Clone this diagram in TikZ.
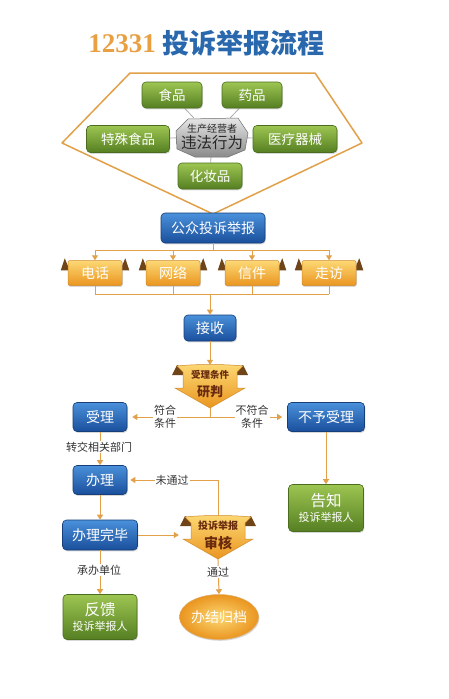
\documentclass[tikz,border=0pt]{standalone}
\usepackage{fontspec}
\newfontfamily\cjk{Noto Sans CJK SC}
\newfontfamily\sernum{Liberation Serif}
\usetikzlibrary{arrows.meta,shadows,backgrounds,shapes.geometric}
\pgfdeclarelayer{paper}
\pgfsetlayers{paper,background,main}
\definecolor{btop}{HTML}{4A90DA}
\definecolor{bbot}{HTML}{1A4F9C}
\definecolor{bbd}{HTML}{163E78}
\definecolor{gtop}{HTML}{9DC552}
\definecolor{gbot}{HTML}{557F22}
\definecolor{gbd}{HTML}{4A6E1E}
\definecolor{otop}{HTML}{FCD874}
\definecolor{obot}{HTML}{EA951F}
\definecolor{obd}{HTML}{CF8A2A}
\definecolor{ebrown}{HTML}{6E4418}
\definecolor{lc}{HTML}{E2A049}
\definecolor{labc}{HTML}{333333}
\definecolor{tor}{HTML}{E8A043}
\definecolor{tbl}{HTML}{2A68AE}
\definecolor{dred}{HTML}{6A2A0E}
\definecolor{grl}{HTML}{E6E6E6}
\definecolor{grd}{HTML}{8A8A8A}
\newcommand\bannershape[2]{%
  \begin{scope}[shift={(#1,#2)}]
    \fill[ebrown] (-38,10) -- (-33,0) -- (-26,3) -- (-27,10) -- cycle;
    \fill[ebrown] (38,10) -- (33,0) -- (26,3) -- (27,10) -- cycle;
    \shade[top color=otop,bottom color=obot,draw=obd,line width=0.5pt]
      (-33,1) .. controls (-15,-1) and (15,-1) .. (33,1) -- (27,7) -- (27,23) -- (35,23) -- (0,43) -- (-35,23) -- (-27,23) -- (-27,7) -- cycle;
  \end{scope}}
\newcommand\ribears[1]{%
  \fill[ebrown] ([xshift=-7pt,yshift=-10pt]#1.north west) -- ([xshift=-3pt,yshift=2pt]#1.north west) -- ([xshift=2pt,yshift=-10pt]#1.north west) -- cycle;
  \fill[ebrown] ([xshift=7pt,yshift=-10pt]#1.north east) -- ([xshift=3pt,yshift=2pt]#1.north east) -- ([xshift=-2pt,yshift=-10pt]#1.north east) -- cycle;}
\tikzset{
  shd/.style={drop shadow={opacity=0.3,shadow xshift=0.8pt,shadow yshift=-1.3pt}},
  bbox/.style={rounded corners=4pt,draw=bbd,line width=0.6pt,top color=btop,bottom color=bbot,
    text=white,font=\cjk\fontsize{14}{16}\selectfont,inner sep=0pt,shd},
  gbox/.style={rounded corners=4pt,draw=gbd,line width=0.6pt,top color=gtop,bottom color=gbot,
    text=white,font=\cjk\fontsize{13.5}{15}\selectfont,inner sep=0pt,shd},
  obox/.style={rounded corners=2pt,draw=obd,line width=0.5pt,top color=otop,bottom color=obot,
    text=white,font=\cjk\fontsize{14}{16}\selectfont,inner sep=0pt,minimum width=54pt,minimum height=25pt,shd},
  conn/.style={draw=lc,line width=1pt},
  arr/.style={conn,-{Triangle[width=6pt,length=5pt]}},
  lab/.style={fill=white,inner sep=1pt,text=labc,font=\cjk\fontsize{11}{13}\selectfont,align=center},
  gline/.style={draw=grd!70,line width=0.8pt},
}
\begin{document}
\begin{tikzpicture}[x=1pt,y=-1pt]
\begin{pgfonlayer}{paper}
\fill[white] (0,0) rectangle (449,699);
\end{pgfonlayer}
\useasboundingbox (0,0) rectangle (449,699);
% title
\node[anchor=east,inner sep=0pt,text=tor,font=\sernum\bfseries\fontsize{27}{29}\selectfont] (tnum) at (156,44) {12331};
\node[anchor=west,inner sep=0pt,text=tbl,font=\cjk\bfseries\fontsize{27}{29}\selectfont] (ttxt) at (162,43) {投诉举报流程};
% pentagon frame
\draw[draw=lc,line width=1.5pt,line join=round] (130,73) -- (315,73) -- (362,143) -- (213,214) -- (62,143) -- cycle;
% center shape nodes
\node[inner sep=0pt,minimum width=70pt,minimum height=38pt] (ctr) at (212,137) {};
\node[gbox,minimum width=60pt,minimum height=26pt] (sp) at (172,95) {食品};
\node[gbox,minimum width=60pt,minimum height=26pt] (yp) at (252,95) {药品};
\node[gbox,minimum width=83pt,minimum height=27pt] (ts) at (128,139) {特殊食品};
\node[gbox,minimum width=84pt,minimum height=27pt] (yl) at (295,139) {医疗器械};
\node[gbox,minimum width=64pt,minimum height=26pt] (hz) at (210,176) {化妆品};
\begin{scope}[on background layer]
\draw[gline] (sp) -- (ctr);
\draw[gline] (yp) -- (ctr);
\draw[gline] (ts) -- (ctr);
\draw[gline] (yl) -- (ctr);
\draw[gline] (hz) -- (ctr);
\end{scope}
\shade[top color=grl,bottom color=grd,draw=grd!80!black,line width=0.5pt]
  (188,119) -- (238,118) -- (248,133) -- (245,150) -- (228,157) -- (195,157) -- (177,149) -- (176,131) -- cycle;
\node[text=black!85,align=center,inner sep=0pt] (ctrt) at (212,137)
  {\cjk\fontsize{10}{11}\selectfont 生产经营者\\[1pt]\cjk\fontsize{15.5}{16}\selectfont 违法行为};
% public complaint
\node[bbox,minimum width=104pt,minimum height=30pt] (gz) at (213,228) {公众投诉举报};
% channels
\node[obox] (dh) at (95,273) {电话};
\node[obox] (wl) at (173,273) {网络};
\node[obox] (xj) at (252,273) {信件};
\node[obox] (zf) at (329,273) {走访};
\begin{scope}[on background layer]
\ribears{dh}\ribears{wl}\ribears{xj}\ribears{zf}
\end{scope}
\coordinate (busT) at (213,250);
\coordinate (busB) at (210,294);
\draw[conn] (gz.south) -- (busT);
\draw[conn] (dh.north |- busT) -- (zf.north |- busT);
\foreach \n in {dh,wl,xj,zf} {\draw[arr] (\n.north |- busT) -- (\n.north);}
\foreach \n in {dh,wl,xj,zf} {\draw[conn] (\n.south) -- (\n.south |- busB);}
\draw[conn] (dh.south |- busB) -- (zf.south |- busB);
% receive
\node[bbox,minimum width=52pt,minimum height=26pt] (js) at (210,328) {接收};
\draw[arr] (busB) -- (js.north);
% judge banner
\bannershape{210}{365}
\node[inner sep=0pt,minimum width=72pt,minimum height=43pt] (ypb) at (210,386.5) {};
\node[inner sep=0pt,text=dred,font=\cjk\bfseries\fontsize{9.5}{11}\selectfont] (ypt1) at (210,375) {受理条件};
\node[inner sep=0pt,text=dred,font=\cjk\bfseries\fontsize{13}{14}\selectfont] (ypt2) at (210,392) {研判};
\draw[arr] (js.south) -- (ypb.north);
% accept / reject
\node[bbox,minimum width=54pt,minimum height=29pt] (sl) at (100,417) {受理};
\node[bbox,minimum width=77pt,minimum height=29pt] (bs) at (326,417) {不予受理};
\coordinate (jmid) at (210,417);
\draw[conn] (ypb.south) -- (jmid);
\draw[arr,shorten >=5pt] (jmid) -- (sl.east);
\draw[arr,shorten >=5pt] (jmid) -- (bs.west);
\node[lab] (l1) at (165,417) {符合\\条件};
\node[lab] (l2) at (252,417) {不符合\\条件};
% handle
\node[bbox,minimum width=54pt,minimum height=29pt] (bl) at (100,480) {办理};
\draw[arr] (sl.south) -- (bl.north);
\node[lab] (l3) at (99,447) {转交相关部门};
\node[gbox,minimum width=75pt,minimum height=47pt,align=center] (gzh) at (326,508)
  {\fontsize{15.5}{17}\selectfont 告知\\\fontsize{11}{13}\selectfont 投诉举报人};
\draw[arr] (bs.south) -- (gzh.north);
\node[bbox,minimum width=75pt,minimum height=30pt] (bw) at (100,535) {办理完毕};
\draw[arr] (bl.south) -- (bw.north);
% review banner
\bannershape{218}{516}
\node[inner sep=0pt,minimum width=78pt,minimum height=43pt] (shb) at (218,537.5) {};
\node[inner sep=0pt,text=dred,font=\cjk\bfseries\fontsize{10}{11}\selectfont] (sht1) at (218,526) {投诉举报};
\node[inner sep=0pt,text=dred,font=\cjk\bfseries\fontsize{14}{15}\selectfont] (sht2) at (218,543) {审核};
\draw[arr] (bw.east) -- (bw.east -| shb.west);
\draw[arr,shorten >=3pt] (shb.north) |- (bl.east);
\node[lab] (l4) at (172,480) {未通过};
% final
\node[gbox,minimum width=74pt,minimum height=45pt,align=center] (fk) at (100,617)
  {\fontsize{15.5}{17}\selectfont 反馈\\\fontsize{11}{13}\selectfont 投诉举报人};
\draw[arr] (bw.south) -- (fk.north);
\node[lab] (l5) at (99,570) {承办单位};
\node[ellipse,inner color=otop,outer color=obot,draw=obd!70,line width=0.5pt,minimum width=78pt,minimum height=45pt,
  text=white,font=\cjk\fontsize{14}{16}\selectfont,inner sep=0pt,shd] (jd) at (219,617) {办结归档};
\draw[arr] (shb.south) -- (jd.north);
\node[lab] (l6) at (218,572) {通过};
\end{tikzpicture}
\end{document}
